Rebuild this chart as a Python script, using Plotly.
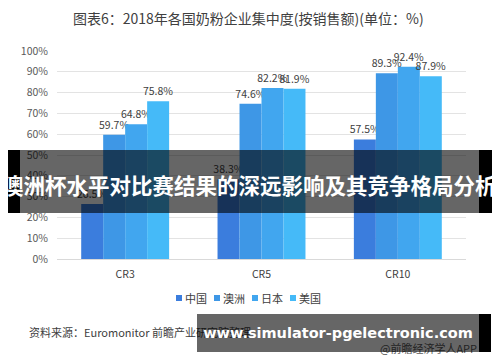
import plotly.graph_objects as go

categories = ["CR3", "CR5", "CR10"]
series_names = ["中国", "澳洲", "日本", "美国"]
china = [26.5, 38.3, 57.5]
australia = [59.7, 74.6, 89.3]
japan = [64.8, 82.2, 92.4]
usa = [75.8, 81.9, 87.9]
y_ticks = [0, 10, 20, 30, 40, 50, 60, 70, 80, 90, 100]
y_tick_labels = [f"{v}%" for v in y_ticks]

title_text = "图表6：2018年各国奶粉企业集中度(按销售额)(单位：%)"
source_text = "资料来源：Euromonitor 前瞻产业研究院整理"
banner_text = "澳洲杯水平对比赛结果的深远影响及其竞争格局分析"
url_text = "www.simulator-pgelectronic.com"
app_text = "@前瞻经济学人APP"

colors = ["#3b7ddd", "#3e97e6", "#41a6ef", "#45baf8"]
values = [china, australia, japan, usa]

W, H = 500, 362
ML, MR, MT, MB = 57, 34, 51, 103
PW, PH = W - ML - MR, H - MT - MB


def px(x):
    return (x - ML) / PW


def py(y):
    return (H - MB - y) / PH


CJK = "Noto Sans CJK SC, Noto Sans, sans-serif"

fig = go.Figure()
for name, vals, col in zip(series_names, values, colors):
    fig.add_trace(go.Bar(
        x=categories, y=vals, name=name, marker=dict(color=col, line=dict(width=0)),
        text=[f"{v:.1f}%" for v in vals], textposition="outside", constraintext="none",
        textfont=dict(size=10.5, color="#404040", family=CJK),
        cliponaxis=False, showlegend=False,
    ))

shapes = [
    dict(type="rect", xref="paper", yref="paper", x0=px(8), x1=px(20), y0=py(150), y1=py(213),
         fillcolor="black", line=dict(width=0), layer="above"),
    dict(type="rect", xref="paper", yref="paper", x0=px(20), x1=px(479), y0=py(150), y1=py(213),
         fillcolor="rgba(0,0,0,0.6)", line=dict(width=0), layer="above"),
    dict(type="rect", xref="paper", yref="paper", x0=px(479), x1=px(492), y0=py(150), y1=py(213),
         fillcolor="black", line=dict(width=0), layer="above"),
    dict(type="rect", xref="paper", yref="paper", x0=px(479), x1=px(491), y0=py(314), y1=py(352),
         fillcolor="black", line=dict(width=0), layer="above"),
]

annotations = [
    dict(text=title_text, xref="paper", yref="paper", x=px(248), y=py(18), showarrow=False,
         xanchor="center", yanchor="middle", font=dict(size=14, color="#404040", family=CJK)),
    dict(text=source_text, xref="paper", yref="paper", x=px(27), y=py(332), showarrow=False,
         xanchor="left", yanchor="middle", font=dict(size=11, color="#404040", family=CJK)),
    dict(text=app_text, xref="paper", yref="paper", x=px(479), y=py(348), showarrow=False,
         xanchor="right", yanchor="middle", font=dict(size=11, color="#595959", family=CJK)),
    dict(text="<b>" + url_text + "</b>", xref="paper", yref="paper", x=px(197), y=py(314),
         showarrow=False, xanchor="left", yanchor="top", width=282, height=38,
         bgcolor="rgba(0,0,0,0.6)", borderpad=0, borderwidth=0, align="center", valign="middle",
         font=dict(size=14.5, color="white", family="DejaVu Sans")),
    dict(text="<b>" + banner_text + "</b>", xref="paper", yref="paper", x=px(249), y=py(184),
         showarrow=False, xanchor="center", yanchor="middle",
         font=dict(size=21.5, color="white", family=CJK)),
]

# manual compact legend
legend_x = [176, 214, 252, 290]
for lx, name, col in zip(legend_x, series_names, colors):
    shapes.append(dict(type="rect", xref="paper", yref="paper", x0=px(lx), x1=px(lx + 6),
                       y0=py(301), y1=py(295), fillcolor=col, line=dict(width=0)))
    annotations.append(dict(text=name, xref="paper", yref="paper", x=px(lx + 7), y=py(298),
                            showarrow=False, xanchor="left", yanchor="middle",
                            font=dict(size=11, color="#404040", family=CJK)))

fig.update_layout(
    width=W, height=H, margin=dict(l=ML, r=MR, t=MT, b=MB),
    paper_bgcolor="white", plot_bgcolor="white",
    barmode="group", bargap=0.355, bargroupgap=0,
    font=dict(family=CJK, color="#404040"),
    showlegend=False,
    shapes=shapes, annotations=annotations,
)
fig.update_xaxes(showline=True, linecolor="#d9d9d9", linewidth=1, ticks="",
                 ticklabelstandoff=5,
                 tickfont=dict(size=10.5, color="#404040", family=CJK), showgrid=False)
fig.update_yaxes(range=[0, 100], tickvals=y_ticks, ticktext=y_tick_labels, showgrid=True,
                 gridcolor="#e3e3e3", gridwidth=1, zeroline=False, showline=False,
                 ticklabelstandoff=8,
                 tickfont=dict(size=10.5, color="#595959", family=CJK), ticks="")

fig.write_html("out.html", config={"displayModeBar": False},
               post_script="document.body.style.margin='0px';")
